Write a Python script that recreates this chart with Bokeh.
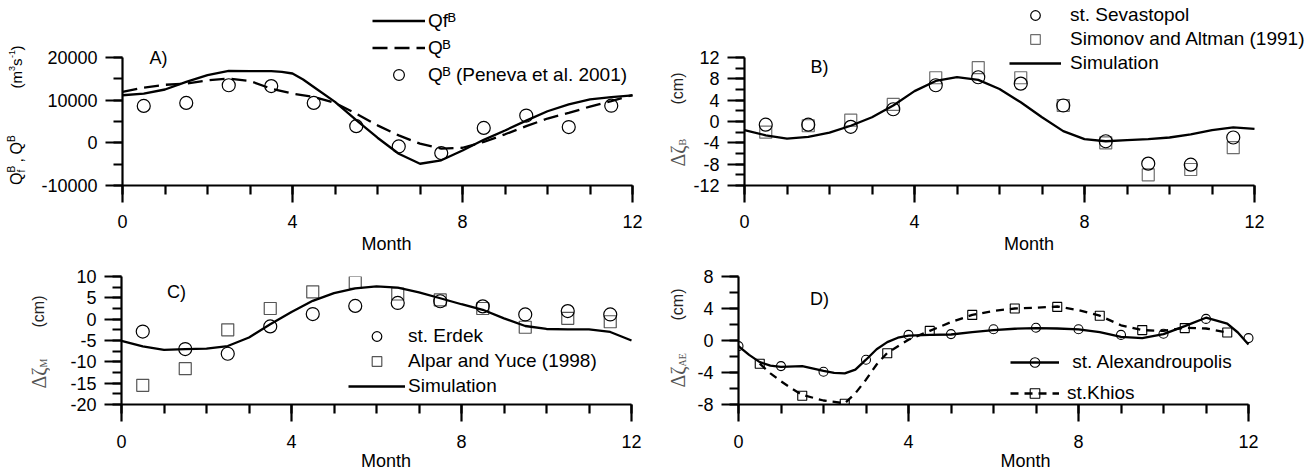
from math import pi

from bokeh.embed import file_html
from bokeh.layouts import column, row
from bokeh.models import FixedTicker, Label, Legend, LegendItem, Range1d
from bokeh.plotting import figure
from bokeh.resources import INLINE

# ---------------------------------------------------------------- data
obs_month = [0.5, 1.5, 2.5, 3.5, 4.5, 5.5, 6.5, 7.5, 8.5, 9.5, 10.5, 11.5]

# A) Bosphorus discharge (m3/s)
qfb_month = [0, 0.5, 1, 1.5, 2, 2.5, 3, 3.5, 3.75, 4, 4.25, 4.5, 5, 5.5, 6, 6.5,
             7, 7.5, 8, 8.5, 9, 9.5, 10, 10.5, 11, 11.5, 12]
qfb_flow = [11150, 11550, 12500, 14300, 15850, 16850, 16800, 16800, 16650, 16250,
            14850, 13100, 9600, 5300, 1200, -2550, -4900, -4100, -1800, 700, 2900,
            5200, 7400, 9000, 10200, 10700, 11100]
qb_month = [0, 0.5, 1, 1.5, 2, 2.5, 3, 3.5, 4, 4.5, 5, 5.5, 6, 6.5, 7, 7.5, 8,
            8.5, 9, 9.5, 10, 10.5, 11, 11.5, 12]
qb_flow = [11950, 12950, 13600, 13900, 14650, 15050, 14500, 12700, 11550, 10750,
           9350, 6850, 4100, 1750, -200, -1350, -1150, 200, 2000, 3900, 5700, 7000,
           8500, 9800, 11200]
peneva_flow = [8650, 9350, 13500, 13300, 9350, 3900, -850, -2400, 3500, 6400, 3700, 8700]

# B) Black Sea level anomaly (cm)
sim_b_month = qb_month
sim_b = [-1.6, -2.6, -3.2, -2.9, -2.1, -0.8, 0.8, 3.0, 5.7, 7.6, 8.3, 7.8, 6.1, 3.6,
         0.8, -1.8, -3.3, -3.7, -3.5, -3.3, -3.0, -2.4, -1.6, -1.1, -1.4]
sevastopol = [-0.6, -0.6, -1.0, 2.3, 6.8, 8.3, 7.1, 3.0, -3.7, -7.9, -8.1, -3.0]
simonov = [-2.0, -0.8, 0.25, 3.2, 8.2, 10.1, 8.2, 3.0, -4.0, -10.0, -9.0, -4.9]

# C) Marmara Sea level anomaly (cm)
sim_c_month = qb_month
sim_c = [-5.1, -6.4, -7.2, -7.0, -6.9, -6.3, -4.3, -1.2, 1.7, 4.3, 6.1, 7.2, 7.7, 7.4,
         6.3, 4.9, 3.5, 2.2, 0.2, -1.6, -2.3, -2.4, -2.4, -3.0, -5.0]
erdek = [-2.9, -7.0, -8.1, -1.7, 1.2, 3.1, 3.8, 4.2, 3.0, 1.1, 1.9, 1.1]
alpar = [-15.5, -11.6, -2.5, 2.5, 6.4, 8.6, 5.9, 4.5, 2.5, -1.9, 0.2, -0.6]

# D) Aegean Sea level anomaly (cm)
alex_month = [0, 1, 2, 3, 4, 5, 6, 7, 8, 9, 10, 11, 12]
alex = [-0.7, -3.2, -3.9, -2.4, 0.7, 0.8, 1.4, 1.6, 1.4, 0.7, 0.85, 2.7, 0.3]
alex_curve_month = [0, 0.25, 0.5, 0.75, 1, 1.5, 2, 2.25, 2.5, 2.75, 3, 3.25, 3.5,
                    3.75, 4, 4.5, 5, 5.5, 6, 6.5, 7, 7.5, 8, 8.5, 9, 9.5, 10, 10.5,
                    11, 11.5, 11.75, 12]
alex_curve = [-0.7, -1.8, -2.7, -3.15, -3.3, -3.2, -3.8, -4.05, -4.1, -3.65, -2.4,
              -1.1, -0.2, 0.35, 0.6, 0.7, 0.75, 1.05, 1.3, 1.47, 1.55, 1.5, 1.4,
              1.05, 0.45, 0.3, 0.8, 1.8, 2.85, 2.1, 1.0, -0.5]
khios = [-2.9, -6.9, -7.9, -1.6, 1.2, 3.2, 4.0, 4.2, 3.1, 1.3, 1.55, 1.0]
khios_curve_month = [0.5, 0.75, 1, 1.25, 1.5, 2, 2.5, 2.75, 3, 3.25, 3.5, 4, 4.5, 5,
                     5.5, 6, 6.5, 7, 7.5, 8, 8.5, 9, 9.5, 10, 10.5, 11, 11.5]
khios_curve = [-2.9, -4.1, -5.1, -6.0, -6.8, -7.5, -7.85, -6.6, -4.9, -3.0, -1.55,
               0.1, 1.2, 2.3, 3.2, 3.7, 4.0, 4.1, 4.25, 3.8, 3.1, 1.9, 1.3, 1.2, 1.6,
               1.5, 1.0]

x_major = [0, 4, 8, 12]
x_minor = list(range(13))

SANS = "Liberation Sans"
SERIF = "Liberation Serif"
PX_PER_MONTH = 42.5
R = pi / 2
GREY = "#555555"


def panel(fig_left, fig_right, frame_left, frame_top, frame_bottom, fig_top, fig_bottom,
          y0, y1, y_px, y_major, y_minor, lab_standoff, title_standoff):
    """Axes box spanning y0..y1 over y_px pixels; the plotting area is widened up
    and to the right so that legends and edge markers are not cut."""
    fw = fig_right - frame_left
    fh = frame_bottom - frame_top
    per_px = (y1 - y0) / y_px
    p = figure(frame_width=fw, frame_height=fh,
               min_border_left=frame_left - fig_left, min_border_right=0,
               min_border_top=frame_top - fig_top, min_border_bottom=fig_bottom - frame_bottom,
               x_range=Range1d(0, fw / PX_PER_MONTH),
               y_range=Range1d(y0, y0 + fh * per_px),
               toolbar_location=None, output_backend="svg", title=None)
    p.outline_line_color = None
    p.xgrid.visible = False
    p.ygrid.visible = False
    p.background_fill_color = "white"
    p.border_fill_color = "white"
    for ax in (p.xaxis[0], p.yaxis[0]):
        ax.axis_line_width = 2.2
        ax.major_tick_line_width = 2.2
        ax.minor_tick_line_width = 2.2
        ax.major_tick_in = 0
        ax.minor_tick_in = 0
        ax.major_tick_out = 17
        ax.minor_tick_out = 9
        ax.major_label_text_font = SANS
        ax.major_label_text_font_size = "18px"
        ax.major_label_text_color = "black"
    p.xaxis.bounds = (0, 12)
    p.yaxis.bounds = (y0, y1)
    p.xaxis.ticker = FixedTicker(ticks=x_major, minor_ticks=x_minor)
    p.yaxis.ticker = FixedTicker(ticks=y_major, minor_ticks=y_minor)
    p.yaxis.major_label_overrides = {v: str(v) for v in y_major}
    p.xaxis.axis_label = "Month"
    p.xaxis.axis_label_text_font = SANS
    p.xaxis.axis_label_text_font_size = "18px"
    p.xaxis.axis_label_text_font_style = "normal"
    p.xaxis.axis_label_text_color = "black"
    p.xaxis.major_label_standoff = lab_standoff
    p.xaxis.axis_label_standoff = title_standoff
    p.yaxis.major_label_standoff = 8
    return p


def strip(left, right, top, bottom):
    """Blank column that carries a rotated axis title."""
    w, h = right - left, bottom - top
    s = figure(width=w, height=h, min_border=0, x_range=Range1d(0, w),
               y_range=Range1d(0, h), x_axis_type=None, y_axis_type=None,
               toolbar_location=None, output_backend="svg", title=None)
    s.outline_line_color = None
    s.xgrid.visible = False
    s.ygrid.visible = False
    return s


def writer(p, frame_left, frame_bottom):
    """Return a helper placing text pieces at page positions, measured from the
    bottom-left corner of the plotting area the pieces belong to."""
    def put(text, X, Y, size=18, angle=0.0, color="black", font=SANS,
            align="left", baseline="middle"):
        p.add_layout(Label(x=X - frame_left, y=frame_bottom - Y,
                           x_units="screen", y_units="screen", text=text,
                           angle=angle, text_font=font, text_font_size=f"{size}px",
                           text_color=color, text_align=align, text_baseline=baseline))
    return put


def legend(p, items, vx, vy, gw, gh, standoff, spacing=0):
    lg = Legend(items=[LegendItem(label=t, renderers=r) for t, r in items],
                location=(vx, vy), orientation="vertical",
                glyph_width=gw, glyph_height=gh, label_height=gh,
                label_standoff=standoff, spacing=spacing, padding=0, margin=0,
                border_line_color=None, background_fill_alpha=0,
                label_text_font=SANS, label_text_font_size="19px",
                label_text_color="black")
    p.add_layout(lg)


# ---------------------------------------------------------------- A
sa = strip(0, 36, 0, 255)
pa = panel(36, 650, 122, 0, 185, 0, 255, -10000, 20000, 128,
           [-10000, 0, 10000, 20000], [-10000, -5000, 0, 5000, 10000, 15000, 20000], 12, 3)
ra1 = pa.line(qfb_month, qfb_flow, line_color="black", line_width=2.3)
ra2 = pa.line(qb_month, qb_flow, line_color="black", line_width=2.3, line_dash="15 7")
ra3 = pa.scatter(obs_month, peneva_flow, marker="circle", size=13,
                 fill_color=None, line_color="black", line_width=1.2)
legend(pa, [("Qf\u1d2e", [ra1]), ("Q\u1d2e", [ra2]),
            ("Q\u1d2e (Peneva et al. 2001)", [ra3])], 250, 97, 53, 27, 3)
put = writer(pa, 122, 185)
put("A)", 158, 57, align="center")
# the title column shares the vertical extent of the plotting area next to it
put = writer(sa, 0, 185)
put("Q", 16, 185.5, 16, R)
put("f", 21, 173, 10, R)
put("B", 11, 173, 10, R)
put(",", 16, 163, 16, R)
put("Q", 16, 155, 16, R)
put("B", 11, 142.5, 10, R)
put("(m", 16, 89, 15, R)
put("3", 11, 71.5, 9, R)
put("s", 16, 66.5, 15, R)
put("-1", 11, 58.5, 9, R)
put(")", 16, 51, 15, R)

# ---------------------------------------------------------------- B
sb = strip(650, 690, 0, 255)
pb = panel(690, 1312, 743, 0, 185, 0, 255, -12, 12, 128,
           [-12, -8, -4, 0, 4, 8, 12], list(range(-12, 13, 2)), 12, 3)
rb2 = pb.scatter(obs_month, simonov, marker="square", size=12, fill_color=None,
                 line_color="#6e6e6e", line_width=1.2)
rb1 = pb.scatter(obs_month, sevastopol, marker="circle", size=13, fill_color=None,
                 line_color="black", line_width=1.2)
rb3 = pb.line(sim_b_month, sim_b, line_color="black", line_width=2.3)
legend(pb, [("st. Sevastopol", [rb1]), ("Simonov and Altman (1991)", [rb2]),
            ("Simulation", [rb3])], 265, 110, 52, 24, 9)
put = writer(pb, 743, 185)
put("B)", 818, 66, align="center")
put = writer(sb, 650, 185)
put("\u0394\u03b6", 677, 167, 20, R, color=GREY, font=SERIF)
put("B", 682, 146, 10, R, color=GREY, font=SERIF)
put("(cm)", 677, 105, 16, R, color="#222222")

# ---------------------------------------------------------------- C
sc = strip(0, 50, 255, 471)
pc = panel(50, 650, 121, 275, 403, 255, 471, -20, 10, 128,
           [-20, -15, -10, -5, 0, 5, 10], [v / 2 for v in range(-40, 21, 5)], 13, 0)
rc2 = pc.scatter(obs_month, alpar, marker="square", size=12, fill_color=None,
                 line_color=GREY, line_width=1.2)
rc1 = pc.scatter(obs_month, erdek, marker="circle", size=13, fill_color=None,
                 line_color="black", line_width=1.2)
rc3 = pc.line(sim_c_month, sim_c, line_color="black", line_width=2.3)
legend(pc, [("st. Erdek", [rc1]), ("Alpar and Yuce (1998)", [rc2]),
            ("Simulation", [rc3])], 227, 6, 57, 24, 3, spacing=1)
put = writer(pc, 121, 403)
put("C)", 176, 290, align="center")
put = writer(sc, 0, 403)
put("\u0394\u03b6", 38, 388, 20, R, color=GREY, font=SERIF)
put("M", 43, 367, 10, R, color=GREY, font=SERIF)
put("(cm)", 38, 327, 16, R, color="#222222")

# ---------------------------------------------------------------- D
sd = strip(650, 690, 255, 471)
pd_ = panel(690, 1312, 738, 275, 403, 255, 471, -8, 8, 128,
            [-8, -4, 0, 4, 8], list(range(-8, 9, 2)), 13, 0)
rd1 = pd_.line(alex_curve_month, alex_curve, line_color="black", line_width=2.3)
rd2 = pd_.scatter(alex_month, alex, marker="circle", size=9, fill_color=None,
                  line_color="black", line_width=1.1)
rd3 = pd_.line(khios_curve_month, khios_curve, line_color="black", line_width=2.3,
               line_dash="8 6")
rd4 = pd_.scatter(obs_month, khios, marker="square", size=9, fill_color=None,
                  line_color="black", line_width=1.1)
legend(pd_, [("\u00a0st. Alexandroupolis", [rd1, rd2]), ("st.Khios", [rd3, rd4])],
       272, -1, 49, 24, 8, spacing=7)
put = writer(pd_, 738, 403)
put("D)", 819, 297, align="center")
put = writer(sd, 650, 403)
put("\u0394\u03b6", 677, 387, 20, R, color=GREY, font=SERIF)
put("AE", 682, 366, 10, R, color=GREY, font=SERIF)
put("(cm)", 677, 320, 16, R, color="#222222")

layout = column(row(sa, pa, sb, pb), row(sc, pc, sd, pd_))
open("out.html", "w").write(file_html(layout, INLINE))
